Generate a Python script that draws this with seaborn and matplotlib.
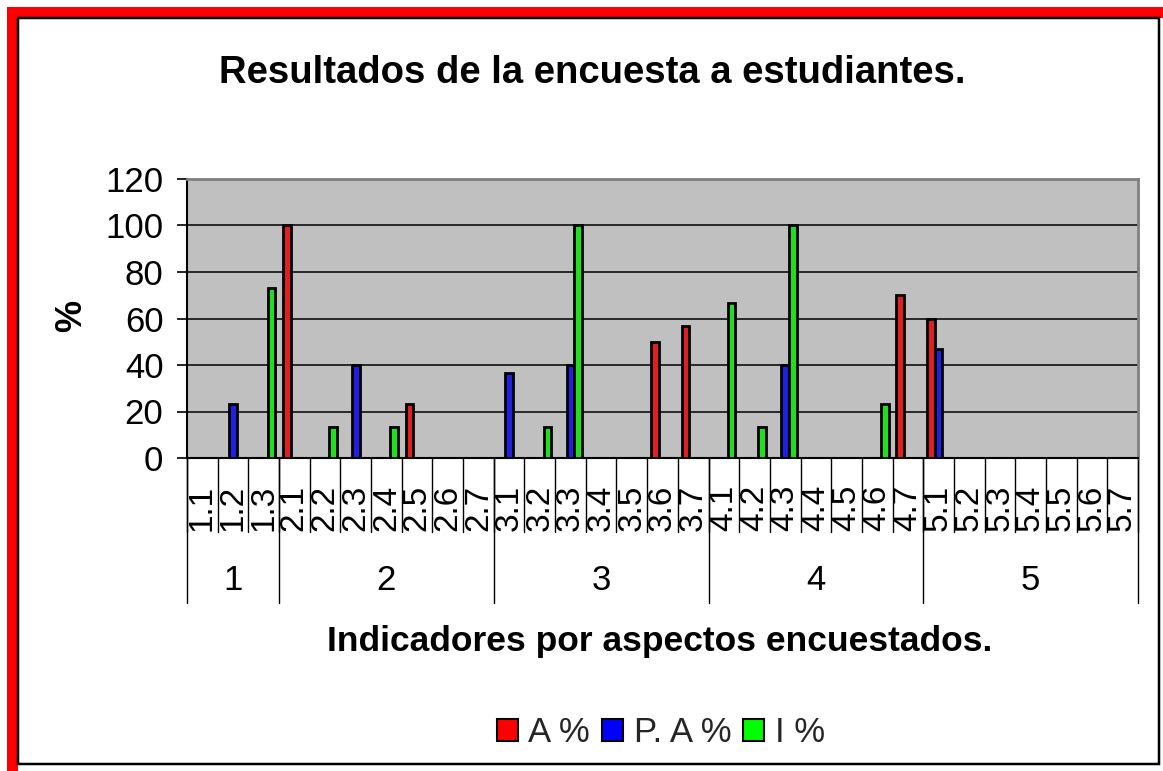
import numpy as np
import pandas as pd
import matplotlib
matplotlib.use("Agg")
import matplotlib.pyplot as plt
import seaborn as sns
from matplotlib.patches import Rectangle, Patch

# ---------------- data ----------------
groups = ["1", "2", "3", "4", "5"]
group_sizes = [3, 7, 7, 7, 7]
categories = ["1.1", "1.2", "1.3",
              "2.1", "2.2", "2.3", "2.4", "2.5", "2.6", "2.7",
              "3.1", "3.2", "3.3", "3.4", "3.5", "3.6", "3.7",
              "4.1", "4.2", "4.3", "4.4", "4.5", "4.6", "4.7",
              "5.1", "5.2", "5.3", "5.4", "5.5", "5.6", "5.7"]
series_names = ["A %", "P. A %", "I %"]
a_pct = [0, 0, 0,
         100, 0, 0, 0, 23.3, 0, 0,
         0, 0, 0, 0, 0, 50, 56.7,
         0, 0, 0, 0, 0, 0, 70,
         60, 0, 0, 0, 0, 0, 0]
pa_pct = [0, 23.3, 0,
          0, 0, 40, 0, 0, 0, 0,
          36.7, 0, 40, 0, 0, 0, 0,
          0, 0, 40, 0, 0, 0, 0,
          46.7, 0, 0, 0, 0, 0, 0]
i_pct = [0, 0, 73.3,
         0, 13.3, 0, 13.3, 0, 0, 0,
         0, 13.3, 100, 0, 0, 0, 0,
         66.7, 13.3, 100, 0, 0, 23.3, 0,
         0, 0, 0, 0, 0, 0, 0]
colors = ["#FF0000", "#0000FF", "#00FF00"]

df = pd.DataFrame({
    "cat": categories * 3,
    "val": a_pct + pa_pct + i_pct,
    "serie": [series_names[0]] * len(categories)
             + [series_names[1]] * len(categories)
             + [series_names[2]] * len(categories),
})

# ---------------- figure ----------------
sns.set_theme(style="white")
plt.rcParams["font.family"] = ["Liberation Sans", "DejaVu Sans"]

W, H = 1163, 771
fig = plt.figure(figsize=(W / 100, H / 100), dpi=100)
fig.patch.set_facecolor("white")

def fx(px):
    return px / W

def fy(py):
    return 1 - py / H

ax_l, ax_r, ax_t, ax_b = 187, 1138, 179, 458
ax = fig.add_axes([fx(ax_l), fy(ax_b), (ax_r - ax_l) / W, (ax_b - ax_t) / H])
ax.set_facecolor("#C0C0C0")

sns.barplot(data=df, x="cat", y="val", hue="serie", order=categories,
            hue_order=series_names, palette=colors, width=0.75, gap=0,
            edgecolor="black", linewidth=2.0, ax=ax, legend=False,
            errorbar=None, zorder=3)

ax.set_ylim(0, 120)
ax.set_xlim(-0.5, len(categories) - 0.5)
ax.set_yticks(np.arange(0, 121, 20))
ax.yaxis.grid(True, color="black", linewidth=1.1, zorder=1)
ax.set_axisbelow(True)
ax.tick_params(axis="y", which="major", left=True, length=7, width=1.2,
               color="black", pad=10, labelsize=25, labelcolor="black")
ax.tick_params(axis="x", bottom=False, length=0, pad=19, labelsize=24,
               labelcolor="black")
ax.set_xticks(range(len(categories)))
ax.set_xticklabels(categories, rotation=90, va="top")
ax.set_xlabel("")
ax.set_ylabel("")

for side in ["left", "bottom"]:
    ax.spines[side].set_color("black")
    ax.spines[side].set_linewidth(1.5)
for side in ["top", "right"]:
    ax.spines[side].set_color("#808080")
    ax.spines[side].set_linewidth(2)

# category separators and group separators below the axis
trans = ax.get_xaxis_transform()
cell_bottom = -(532 - ax_b) / (ax_b - ax_t)
group_bottom = -(603 - ax_b) / (ax_b - ax_t)
for i in range(len(categories) + 1):
    ax.plot([i - 0.5, i - 0.5], [0, cell_bottom], color="black", lw=1.0,
            transform=trans, clip_on=False)
group_label_y = -(581 - ax_b) / (ax_b - ax_t)
bounds = [0]
for g, n in zip(groups, group_sizes):
    bounds.append(bounds[-1] + n)
for k, g in enumerate(groups):
    s, e = bounds[k], bounds[k + 1]
    ax.text((s + e - 1) / 2, group_label_y, g, transform=trans,
            ha="center", va="center", fontsize=25, color="black")
for b in bounds:
    ax.plot([b - 0.5, b - 0.5], [0, group_bottom], color="black", lw=1.0,
            transform=trans, clip_on=False)

# titles
fig.text(fx(592), fy(73), "Resultados de la encuesta a estudiantes.",
         ha="center", va="center", fontsize=27.5, fontweight="bold", color="black")
fig.text(fx(660), fy(641), "Indicadores por aspectos encuestados.",
         ha="center", va="center", fontsize=25.5, fontweight="bold", color="black")
fig.text(fx(72), fy(316), "%", rotation=90, ha="center", va="center",
         fontsize=26, fontweight="bold", color="black")

# legend
handles = [Patch(facecolor=c, edgecolor="black", linewidth=1.5) for c in colors]
fig.legend(handles, series_names, loc="center", bbox_to_anchor=(fx(661), fy(733)),
           ncol=3, frameon=False, fontsize=25, handlelength=0.6,
           handleheight=0.6, handletextpad=0.3, columnspacing=0.35,
           borderaxespad=0)

# frame: red outer band + black inner line
red = Rectangle((fx(11.5), fy(773.5)), (1165.5 - 11.5) / W, (773.5 - 11.5) / H,
                transform=fig.transFigure, fill=False, edgecolor="#FF0000",
                linewidth=11 * 0.72, zorder=10)
blk = Rectangle((fx(18), fy(763.5)), (1159 - 18) / W, (763.5 - 18) / H,
                transform=fig.transFigure, fill=False, edgecolor="black",
                linewidth=2.5 * 0.72, zorder=11)
fig.patches.extend([red, blk])

fig.savefig("out.png", dpi=100, facecolor="white")
